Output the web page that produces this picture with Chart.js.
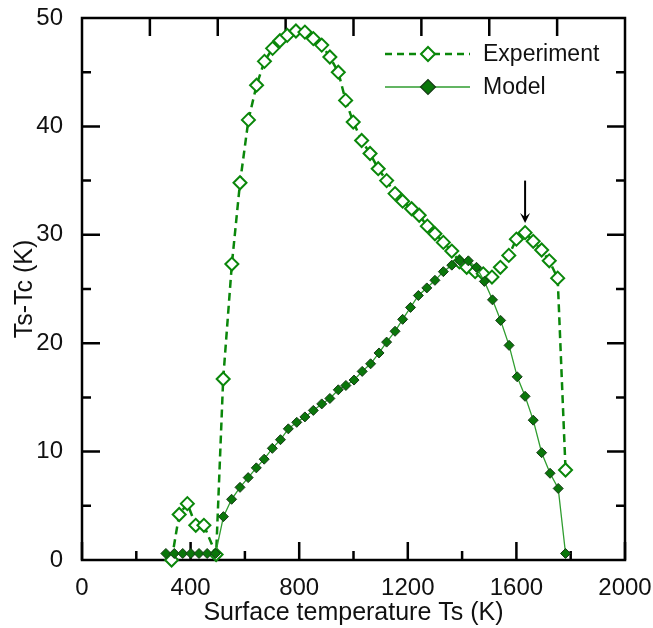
<!DOCTYPE html>
<html><head><meta charset="utf-8">
<script src="https://cdn.jsdelivr.net/npm/chart.js@4.4.1/dist/chart.umd.min.js"></script>
<style>html,body{margin:0;padding:0;background:#fff}#wrap{width:653px;height:628px}</style>
</head><body><div id="wrap"><canvas id="c" width="653" height="628"></canvas></div>
<script>
// ---- data ----
const seriesNames = ['Experiment', 'Model'];
const expT = [330, 358, 388, 419, 449, 494, 520, 552, 582, 613, 643, 672, 702, 729, 756, 788, 821, 852, 883, 913, 944, 971, 999, 1030, 1061, 1091, 1122, 1153, 1181, 1214, 1242, 1272, 1300, 1331, 1362, 1390, 1417, 1448, 1478, 1510, 1541, 1572, 1600, 1632, 1662, 1693, 1721, 1752, 1781];
const expD = [0.0, 4.2, 5.2, 3.2, 3.2, 0.5, 16.7, 27.3, 34.8, 40.6, 43.8, 46.0, 47.2, 47.9, 48.4, 48.8, 48.7, 48.1, 47.5, 46.4, 45.0, 42.4, 40.4, 38.7, 37.5, 36.1, 35.0, 33.8, 33.1, 32.4, 31.8, 30.8, 30.1, 29.3, 28.5, 27.5, 27.0, 26.6, 26.4, 26.1, 27.0, 28.1, 29.6, 30.2, 29.4, 28.6, 27.6, 26.0, 8.3];
const modT = [309, 340, 371, 401, 431, 461, 492, 521, 551, 582, 612, 642, 671, 701, 731, 760, 791, 821, 852, 883, 913, 944, 972, 1002, 1032, 1063, 1094, 1122, 1153, 1181, 1210, 1239, 1270, 1300, 1331, 1362, 1392, 1423, 1453, 1482, 1512, 1542, 1573, 1603, 1632, 1662, 1693, 1724, 1754, 1781];
const modD = [0.6, 0.6, 0.6, 0.6, 0.6, 0.6, 0.6, 4.0, 5.6, 6.7, 7.6, 8.5, 9.3, 10.3, 11.1, 12.1, 12.7, 13.2, 13.8, 14.4, 14.9, 15.7, 16.1, 16.6, 17.4, 18.1, 19.1, 20.1, 21.1, 22.2, 23.3, 24.4, 25.1, 25.8, 26.6, 27.2, 27.6, 27.6, 27.0, 25.7, 24.0, 22.1, 19.8, 16.9, 15.1, 12.9, 9.9, 8.0, 6.6, 0.6];
const xTickLabels = [0, 400, 800, 1200, 1600, 2000];
const yTickLabels = [0, 10, 20, 30, 40, 50];
const xTitle = 'Surface temperature Ts (K)';
const yTitle = 'Ts-Tc (K)';
const arrowX = 1632, arrowFrom = 35.0, arrowTo = 31.1;

// ---- styles ----
const FONT = "'Liberation Sans', Arial, Helvetica, sans-serif";
const EXP_C = '#0a870a';
const MOD_LINE = '#2f9d2f';
const MOD_FILL = '#0a760a';
const MOD_EDGE = '#173a17';

const toXY = (xs, ys) => xs.map((x, i) => ({x, y: ys[i]}));

function diamond(ctx, x, y, r) {
  ctx.beginPath();
  ctx.moveTo(x - r, y); ctx.lineTo(x, y - r); ctx.lineTo(x + r, y); ctx.lineTo(x, y + r);
  ctx.closePath();
}
function noPad(s) { s.paddingLeft = 0; s.paddingRight = 0; s.paddingTop = 0; s.paddingBottom = 0; }

const framePlugin = {
  id: 'frame',
  beforeDatasetsDraw(chart) {
    const {ctx, chartArea: a, scales: {x, y}} = chart;
    ctx.save();
    ctx.strokeStyle = '#000';
    ctx.lineWidth = 2.5;
    ctx.lineCap = 'butt';
    ctx.strokeRect(a.left, a.top, a.right - a.left, a.bottom - a.top);
    ctx.beginPath();
    for (let v = 0; v <= 2000; v += 200) {
      const px = x.getPixelForValue(v);
      const L = (v % 400 === 0) ? 18 : 9;
      ctx.moveTo(px, a.bottom); ctx.lineTo(px, a.bottom - L);
    }
    for (let v = 250; v < 2000; v += 250) {
      const px = x.getPixelForValue(v);
      ctx.moveTo(px, a.top); ctx.lineTo(px, a.top + 18);
    }
    for (let v = 5; v < 50; v += 5) {
      const py = y.getPixelForValue(v);
      const L = (v % 10 === 0) ? 18 : 9;
      ctx.moveTo(a.left, py); ctx.lineTo(a.left + L, py);
      ctx.moveTo(a.right, py); ctx.lineTo(a.right - L, py);
    }
    ctx.stroke();
    ctx.restore();
  },
  afterDraw(chart) {
    const {ctx, chartArea: a, scales: {x, y}} = chart;
    ctx.save();
    // arrow
    const ax = x.getPixelForValue(arrowX);
    const y0 = y.getPixelForValue(arrowFrom), y1 = y.getPixelForValue(arrowTo);
    ctx.strokeStyle = '#000'; ctx.fillStyle = '#000'; ctx.lineWidth = 2;
    ctx.beginPath(); ctx.moveTo(ax, y0); ctx.lineTo(ax, y1 - 4); ctx.stroke();
    ctx.beginPath(); ctx.moveTo(ax - 5, y1 - 10); ctx.lineTo(ax, y1); ctx.lineTo(ax + 5, y1 - 10);
    ctx.lineTo(ax, y1 - 6); ctx.closePath(); ctx.fill();
    // legend
    const lx0 = a.right - 240, lx1 = a.right - 155, mx = a.right - 197, tx = a.right - 142;
    const r1 = a.top + 36, r2 = a.top + 69;
    ctx.strokeStyle = EXP_C; ctx.lineWidth = 2.5; ctx.setLineDash([7, 5]);
    ctx.beginPath(); ctx.moveTo(lx0, r1); ctx.lineTo(lx1, r1); ctx.stroke();
    ctx.setLineDash([]);
    diamond(ctx, mx, r1, 7); ctx.fillStyle = '#fff'; ctx.fill(); ctx.lineWidth = 2; ctx.stroke();
    ctx.strokeStyle = MOD_LINE; ctx.lineWidth = 1.5;
    ctx.beginPath(); ctx.moveTo(lx0, r2); ctx.lineTo(lx1, r2); ctx.stroke();
    diamond(ctx, mx, r2, 7.5); ctx.fillStyle = MOD_FILL; ctx.fill(); ctx.strokeStyle = MOD_EDGE; ctx.lineWidth = 1.2; ctx.stroke();
    ctx.fillStyle = '#111'; ctx.font = '23px ' + FONT; ctx.textBaseline = 'middle'; ctx.textAlign = 'left';
    ctx.fillText(seriesNames[0], tx, r1 + 1);
    ctx.fillText(seriesNames[1], tx, r2 + 1);
    ctx.restore();
  }
};

new Chart(document.getElementById('c'), {
  type: 'scatter',
  data: {
    datasets: [
      {
        label: seriesNames[1], data: toXY(modT, modD), showLine: true, order: 0,
        borderColor: MOD_LINE, borderWidth: 1.3,
        pointStyle: 'rectRot', pointRadius: 5, pointBackgroundColor: MOD_FILL,
        pointBorderColor: MOD_EDGE, pointBorderWidth: 1, clip: false
      },
      {
        label: seriesNames[0], data: toXY(expT, expD), showLine: true, order: 1,
        borderColor: EXP_C, borderWidth: 2.5, borderDash: [8, 5],
        pointStyle: 'rectRot', pointRadius: 6.5, pointBackgroundColor: '#fff',
        pointBorderColor: EXP_C, pointBorderWidth: 2, clip: false
      }
    ]
  },
  options: {
    responsive: false, animation: false, devicePixelRatio: 1,
    layout: {padding: {top: 18, right: 28, left: 0, bottom: 0}},
    plugins: {legend: {display: false}, tooltip: {enabled: false}},
    scales: {
      x: {
        type: 'linear', min: 0, max: 2000,
        afterBuildTicks: s => { s.ticks = xTickLabels.map(v => ({value: v})); },
        afterFit: s => { s.height = 68; noPad(s); },
        grid: {display: false}, border: {display: false},
        ticks: {color: '#111', font: {family: FONT, size: 24}, padding: 6, maxRotation: 0, autoSkip: false,
                callback: v => String(v)},
        title: {display: true, text: xTitle, color: '#111', font: {family: FONT, size: 25}, padding: {top: 0, bottom: 0}}
      },
      y: {
        type: 'linear', min: 0, max: 50,
        afterBuildTicks: s => { s.ticks = yTickLabels.map(v => ({value: v})); },
        afterFit: s => { s.width = 82; noPad(s); },
        grid: {display: false}, border: {display: false},
        ticks: {color: '#111', font: {family: FONT, size: 24}, padding: 11, callback: v => String(v)},
        title: {display: true, text: yTitle, color: '#111', font: {family: FONT, size: 25}, padding: {top: 10, bottom: 0}}
      }
    }
  },
  plugins: [framePlugin]
});
</script></body></html>
